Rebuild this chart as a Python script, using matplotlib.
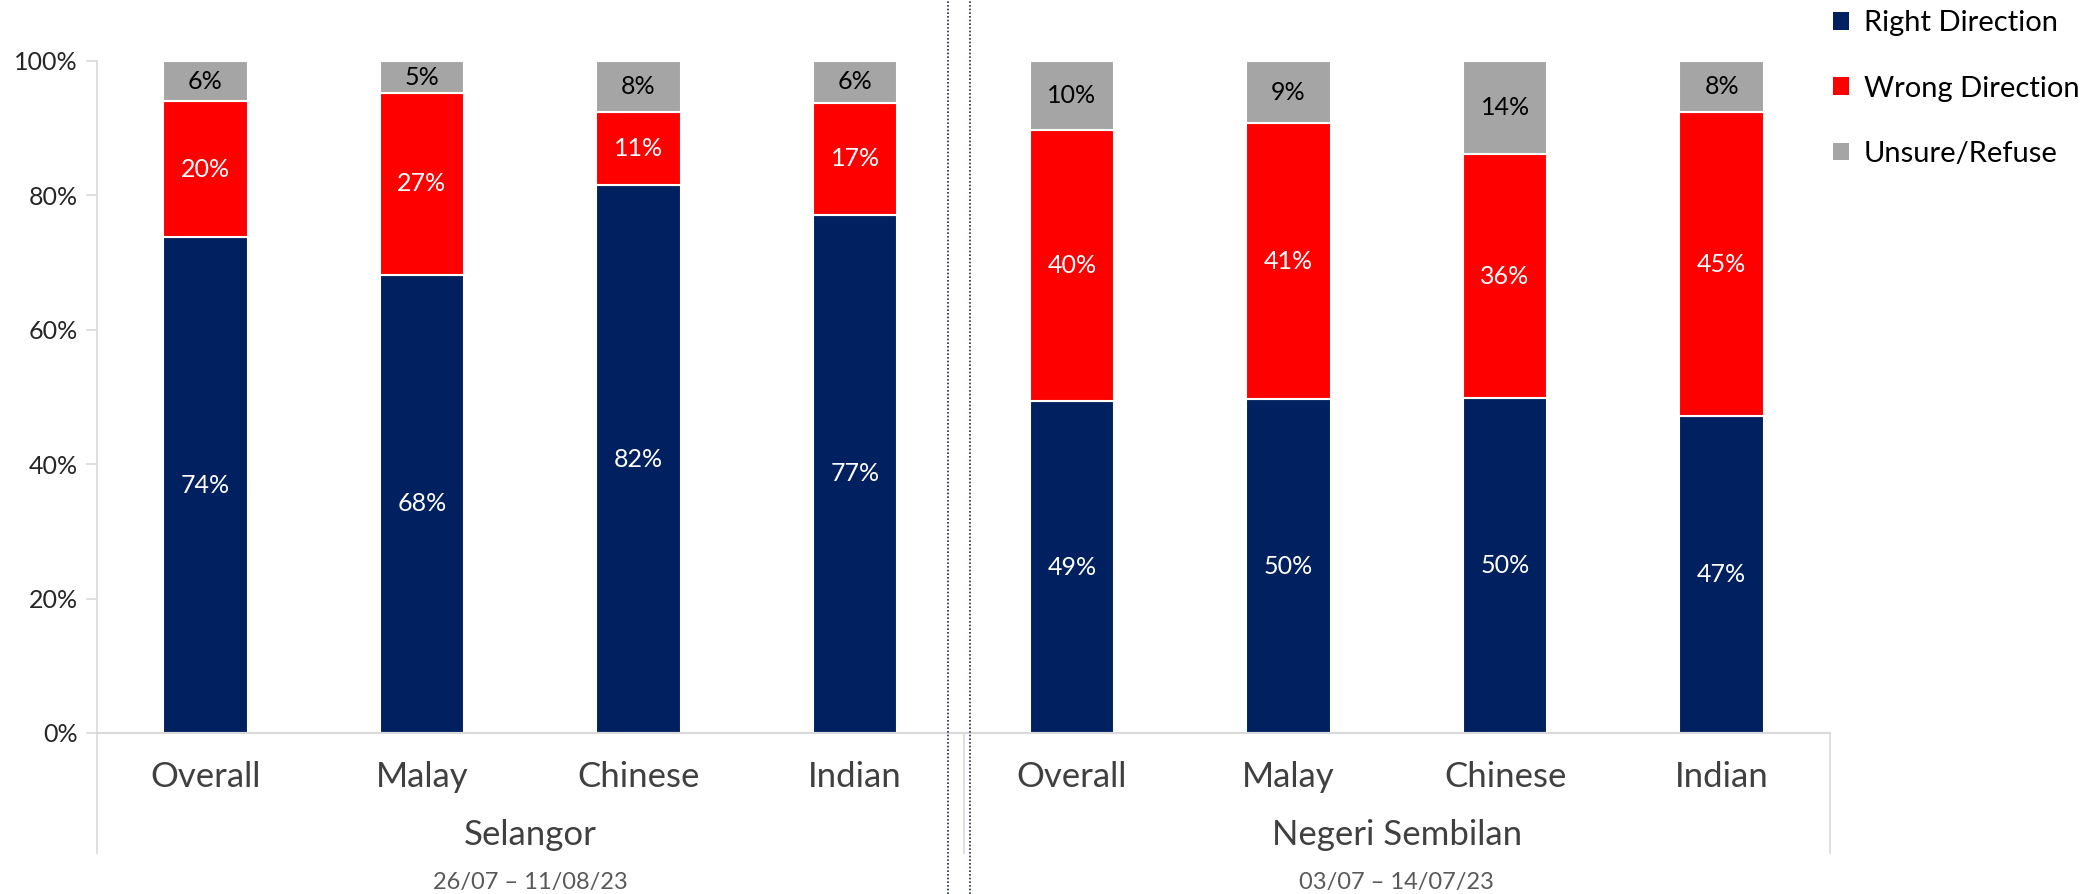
import matplotlib
matplotlib.use('Agg')
import matplotlib.pyplot as plt
import matplotlib.transforms as mtransforms
from matplotlib.lines import Line2D
from matplotlib.patches import Patch
import numpy as np

plt.rcParams['font.family'] = ['Lato', 'DejaVu Sans']

kategorie = ['Overall', 'Malay', 'Chinese', 'Indian',
             'Overall', 'Malay', 'Chinese', 'Indian']
grupy = ['Selangor', 'Negeri Sembilan']
daty = ['26/07 – 11/08/23', '03/07 – 14/07/23']
right_dir = [73.8, 68.2, 81.5, 77.1, 49.4, 49.7, 49.9, 47.1]
wrong_dir = [20.2, 27.0, 10.9, 16.7, 40.3, 41.0, 36.2, 45.3]
unsure = [6.0, 4.8, 7.6, 6.2, 10.3, 9.3, 13.9, 7.6]
serie = ['Right Direction', 'Wrong Direction', 'Unsure/Refuse']
kolory = ['#002060', '#FF0000', '#A5A5A5']
kolory_tekstu = ['white', 'white', 'black']

fig = plt.figure(figsize=(20.9, 8.94), dpi=100)
ax = fig.add_axes([97 / 2090, 1 - 733 / 894, (1830 - 97) / 2090, (733 - 61) / 894])

x = np.arange(len(kategorie))
dol = np.zeros(len(kategorie))
for wartosci, kolor, kt in zip([right_dir, wrong_dir, unsure], kolory, kolory_tekstu):
    w = np.array(wartosci) / 100
    ax.bar(x, w, bottom=dol, width=0.39, color=kolor, edgecolor='white', linewidth=1.5)
    for xi, b, h, v in zip(x, dol, w, wartosci):
        ax.text(xi, b + h / 2, f'{round(v):.0f}%', ha='center', va='center',
                color=kt, fontsize=18)
    dol += w

ax.set_xlim(-0.5, 7.5)
ax.set_ylim(0, 1)
ax.set_yticks(np.arange(0, 1.01, 0.2))
ax.set_yticklabels([f'{int(round(t * 100))}%' for t in np.arange(0, 1.01, 0.2)],
                   fontsize=18, color='#262626')
ax.tick_params(axis='y', length=8, color='#D9D9D9', width=1.2, pad=6)
ax.set_xticks(x)
ax.set_xticklabels(kategorie, fontsize=25, color='#404040')
ax.tick_params(axis='x', length=0, pad=20)
for s in ['top', 'right']:
    ax.spines[s].set_visible(False)
ax.spines['left'].set_color('#D9D9D9')
ax.spines['bottom'].set_color('#D9D9D9')
ax.spines['left'].set_linewidth(1.2)
ax.spines['bottom'].set_linewidth(1.5)

# separatory grup pod osią
tr = mtransforms.blended_transform_factory(ax.transData, fig.transFigure)
for xs in [-0.5, 3.5, 7.5]:
    fig.add_artist(Line2D([xs, xs], [1 - 733 / 894, 1 - 853 / 894], transform=tr,
                          color='#D9D9D9', linewidth=1.2))
for xs in [3.43, 3.53]:
    fig.add_artist(Line2D([xs, xs], [0, 1], transform=tr, color='#1F2A44',
                          linewidth=1.2, linestyle=(0, (1, 1.2))))

for i, (g, d) in enumerate(zip(grupy, daty)):
    xc = 1.5 + 4 * i
    fig.text(xc, 1 - 835 / 894, g, transform=tr, fontsize=25, color='#404040',
             ha='center', va='center')
    fig.text(xc, 1 - 882 / 894, d, transform=tr, fontsize=17, color='#595959',
             ha='center', va='center')

uchwyty = [Patch(facecolor=k) for k in kolory]
fig.legend(uchwyty, serie, loc='upper left', bbox_to_anchor=(1807 / 2090, 1.018),
           frameon=False, fontsize=21, handlelength=0.55, handleheight=0.55,
           handletextpad=0.5, labelspacing=1.35)

fig.savefig('out.png', dpi=100)
